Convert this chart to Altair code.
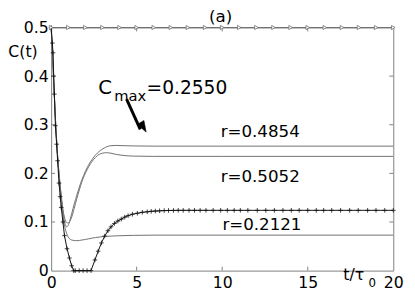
import altair as alt
import pandas as pd

# ---- data ----
tri_t = [0, 1, 2, 3, 4, 5, 6, 7, 8, 9, 10, 11, 12, 13, 14, 15, 16, 17, 18, 19, 20]
tri_c = [0.5, 0.5, 0.5, 0.5, 0.5, 0.5, 0.5, 0.5, 0.5, 0.5, 0.5,
         0.5, 0.5, 0.5, 0.5, 0.5, 0.5, 0.5, 0.5, 0.5, 0.5]

plus_t = [0, 0.07, 0.11, 0.15, 0.19, 0.25, 0.32, 0.38, 0.46, 0.53, 0.59, 0.69, 0.78,
          0.93, 1.07, 1.2, 1.32, 1.41, 1.64, 1.87, 2.10, 2.33, 2.56, 2.75, 2.94, 3.13,
          3.32, 3.5, 3.7, 3.9, 4.1, 4.3, 4.5, 4.75, 5.04, 5.33, 5.62, 5.85, 6.09, 6.34,
          6.61, 6.86, 7.15, 7.43, 7.72, 8.06, 8.38, 8.71, 9.05, 9.47, 9.91, 10.3, 10.7,
          11.06, 11.5, 12.05, 12.55, 13.05, 13.55, 14.04, 14.5, 15.0, 15.5, 15.93, 16.4,
          16.92, 17.45, 17.95, 18.5, 18.99, 19.5, 20]
plus_c = [0.5, 0.468, 0.448, 0.40, 0.363, 0.298, 0.26, 0.226, 0.18, 0.152, 0.130, 0.100, 0.072,
          0.045, 0.026, 0.01, 0.0, 0.0, 0.0, 0.0, 0.0, 0.0, 0.022, 0.040, 0.057, 0.071,
          0.082, 0.090, 0.097, 0.102, 0.106, 0.110, 0.113, 0.116, 0.118, 0.120, 0.121, 0.122, 0.1225, 0.123,
          0.1235, 0.1237, 0.1238, 0.124, 0.124, 0.124, 0.124, 0.124, 0.124, 0.124, 0.124, 0.124, 0.124,
          0.124, 0.124, 0.124, 0.124, 0.124, 0.124, 0.124, 0.124, 0.124, 0.124, 0.124, 0.124,
          0.124, 0.124, 0.124, 0.124, 0.124, 0.124, 0.124]

curve_t = [0, 0.1, 0.2, 0.3, 0.4, 0.5, 0.6, 0.7, 0.8, 0.9, 1.0, 1.1, 1.2, 1.35, 1.5, 1.65,
           1.8, 2.0, 2.2, 2.4, 2.6, 2.8, 3.0, 3.2, 3.5, 3.8, 4.2, 4.8, 6, 10, 20]
curve_a = [0.5, 0.43, 0.35, 0.28, 0.225, 0.185, 0.148, 0.117, 0.098, 0.09, 0.093, 0.104, 0.117,
           0.137, 0.155, 0.172, 0.187, 0.204, 0.218, 0.229, 0.238, 0.245, 0.250, 0.254, 0.257,
           0.2575, 0.257, 0.2565, 0.256, 0.256, 0.256]
curve_b = [0.5, 0.43, 0.35, 0.28, 0.225, 0.185, 0.152, 0.124, 0.107, 0.099, 0.098, 0.102, 0.11,
           0.128, 0.148, 0.166, 0.183, 0.200, 0.214, 0.225, 0.233, 0.239, 0.2415, 0.2425, 0.2415,
           0.239, 0.237, 0.2355, 0.235, 0.235, 0.235]
curve_c = [0.5, 0.43, 0.35, 0.28, 0.225, 0.18, 0.142, 0.11, 0.09, 0.077, 0.069, 0.065, 0.063,
           0.062, 0.0615, 0.062, 0.063, 0.064, 0.0655, 0.067, 0.068, 0.069, 0.070, 0.0705, 0.071,
           0.0715, 0.072, 0.0725, 0.073, 0.073, 0.073]

x_ticks = [0, 5, 10, 15, 20]
y_ticks = [0, 0.1, 0.2, 0.3, 0.4, 0.5]
x_inner = [5, 10, 15]
y_inner = [0.1, 0.2, 0.3, 0.4]

ann_label = ["(a)", "C(t)", "C", "max", "=0.2550", "r=0.4854", "r=0.5052", "r=0.2121", "t/\u03c4", "0"]
ann_t = [9.23, -2.5, 2.75, 3.69, 5.58, 9.91, 9.91, 10.01, 17.08, 18.55]
ann_c = [0.512, 0.4395, 0.3629, 0.3488, 0.3635, 0.2748, 0.1815, 0.0833, -0.020, -0.0343]
ann_fs = [17, 16, 20, 15, 19, 17, 17, 17, 16, 12]

arrow_t = [4.41]
arrow_c = [0.3528]
arrow_t2 = [5.21]
arrow_c2 = [0.2903]
head_t = [5.39]
head_c = [0.2948]

# ---- chart ----
FONT = "DejaVu Sans"
GRAY = "#707070"
AX = "#808080"

xs = alt.Scale(domain=[0, 20], nice=False, zero=False)
ys = alt.Scale(domain=[0, 0.5], nice=False, zero=False)
xaxis = alt.Axis(values=x_ticks, ticks=False, domain=False, grid=False, title=None,
                 labelFont=FONT, labelFontSize=16, labelColor="black", labelPadding=4,
                 labelFlush=False, labelOverlap=False)
yaxis = alt.Axis(values=y_ticks, ticks=False, domain=False, grid=False, title=None,
                 labelFont=FONT, labelFontSize=16, labelColor="black", labelPadding=3,
                 labelExpr="datum.value == 0 ? '0' : format(datum.value, '.1f')",
                 labelOverlap=False)

X = alt.X("t:Q", scale=xs, axis=xaxis)
Y = alt.Y("c:Q", scale=ys, axis=yaxis)

df_xt = pd.DataFrame({"t": x_inner})
df_yt = pd.DataFrame({"c": y_inner})
tick_col = AX
tb = alt.Chart(df_xt).mark_rule(color=tick_col, strokeWidth=1).encode(x=X, y=alt.value(248), y2=alt.value(244))
tt = alt.Chart(df_xt).mark_rule(color=tick_col, strokeWidth=1).encode(x=X, y=alt.value(0), y2=alt.value(4))
tl = alt.Chart(df_yt).mark_rule(color=tick_col, strokeWidth=1).encode(y=Y, x=alt.value(0), x2=alt.value(4))
tr = alt.Chart(df_yt).mark_rule(color=tick_col, strokeWidth=1).encode(y=Y, x=alt.value(349), x2=alt.value(345))

def gline(tv, cv):
    return alt.Chart(pd.DataFrame({"t": tv, "c": cv})).mark_line(
        color=GRAY, strokeWidth=1, interpolate="monotone").encode(x=X, y=Y)

la = gline(curve_t, curve_a)
lb = gline(curve_t, curve_b)
lc = gline(curve_t, curve_c)

df_plus = pd.DataFrame({"t": plus_t, "c": plus_c})
lp = alt.Chart(df_plus).mark_line(color="#111111", strokeWidth=1).encode(x=X, y=Y)
pp = alt.Chart(df_plus).mark_point(
    shape="M-1,0L1,0M0,-1L0,1", size=22, color="#111111", strokeWidth=0.8, filled=False, opacity=1
).encode(x=X, y=Y)

df_tri = pd.DataFrame({"t": tri_t, "c": tri_c})
lt = alt.Chart(df_tri).mark_line(color=GRAY, strokeWidth=1).encode(x=X, y=Y)
pt = alt.Chart(df_tri).mark_point(
    shape="triangle-right", size=18, stroke=GRAY, fill="white", filled=True,
    strokeWidth=0.8, opacity=1
).encode(x=X, y=Y)

df_ann = pd.DataFrame({"label": ann_label, "t": ann_t, "c": ann_c, "fs": ann_fs})
txt = alt.Chart(df_ann).mark_text(
    font=FONT, align="left", baseline="alphabetic", color="black"
).encode(x=X, y=Y, text="label:N", size=alt.Size("fs:Q", scale=None, legend=None))

df_arrow = pd.DataFrame({"t": arrow_t, "c": arrow_c, "t2": arrow_t2, "c2": arrow_c2})
shaft = alt.Chart(df_arrow).mark_rule(color="black", strokeWidth=3).encode(
    x=X, y=Y, x2="t2:Q", y2="c2:Q")
df_head = pd.DataFrame({"t": head_t, "c": head_c})
head = alt.Chart(df_head).mark_point(
    shape="M-0.7,-1L0.7,-1L0,1Z", size=130, angle=330, fill="black", filled=True,
    stroke="black", strokeWidth=0.5, opacity=1
).encode(x=X, y=Y)

chart = alt.layer(
    tb, tt, tl, tr, lc, lb, la, lp, pp, lt, pt, txt, shaft, head
).properties(
    width=349, height=248,
    autosize=alt.AutoSizeParams(type="none"),
    padding={"left": 44, "top": 17, "right": 14, "bottom": 24},
    background="white",
).configure_view(stroke=AX, strokeWidth=1)

chart.save("out.html", embed_options={"renderer": "svg", "actions": False})
